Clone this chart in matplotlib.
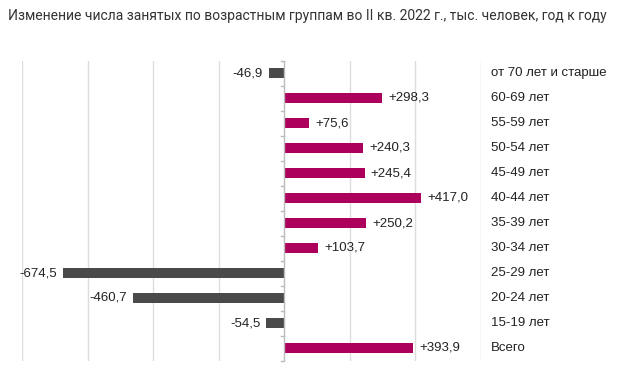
import matplotlib
matplotlib.use("Agg")
import matplotlib.pyplot as plt
import numpy as np

categories = ["от 70 лет и старше", "60-69 лет", "55-59 лет", "50-54 лет", "45-49 лет",
              "40-44 лет", "35-39 лет", "30-34 лет", "25-29 лет", "20-24 лет",
              "15-19 лет", "Всего"]
values = [-46.9, 298.3, 75.6, 240.3, 245.4, 417.0, 250.2, 103.7, -674.5, -460.7, -54.5, 393.9]
labels = ["-46,9", "+298,3", "+75,6", "+240,3", "+245,4", "+417,0", "+250,2", "+103,7",
          "-674,5", "-460,7", "-54,5", "+393,9"]
title = "Изменение числа занятых по возрастным группам во II кв. 2022 г., тыс. человек, год к году"

POS = "#AD005C"
NEG = "#4A4A4A"

fig = plt.figure(figsize=(6.29, 3.84), dpi=100)
ax = fig.add_axes([22/629, 1-360.5/384, (481-22)/629, 300/384])

n = len(categories)
y = np.arange(n)
colors = [POS if v >= 0 else NEG for v in values]
ax.barh(y, values, height=0.4, color=colors, zorder=3)
ax.set_ylim(n-0.5, -0.5)
ax.set_xlim(-800, 600)
ax.set_xticks([-800, -600, -400, -200, 200, 400, 600])
ax.grid(axis="x", color="#DDDDDD", linewidth=1, zorder=0)
ax.tick_params(axis="x", length=0, labelbottom=False)
ax.tick_params(axis="y", length=0, labelleft=False)
for s in ax.spines.values():
    s.set_visible(False)

# zero axis with ticks at category boundaries
ax.axvline(0, color="#BBBBBB", linewidth=1, zorder=4)
for b in np.arange(-0.5, n, 1.0):
    ax.plot([-10, 0], [b, b], color="#BBBBBB", linewidth=1, zorder=4, clip_on=False)

FS = 9.5
for yi, v, lab in zip(y, values, labels):
    if v >= 0:
        ax.annotate(lab, (v, yi), xytext=(6, 0), textcoords="offset pixels",
                    ha="left", va="center", fontsize=FS, family="Liberation Sans", color="#222222")
    else:
        ax.annotate(lab, (v, yi), xytext=(-6, 0), textcoords="offset pixels",
                    ha="right", va="center", fontsize=FS, family="Liberation Sans", color="#222222")
    ax.annotate(categories[yi], (1, yi), xycoords=("axes fraction", "data"),
                xytext=(10, 0), textcoords="offset pixels", ha="left", va="center",
                fontsize=FS, family="Liberation Sans", color="#222222", annotation_clip=False)

fig.text(8/629, 1-16/384, title, ha="left", va="center", fontsize=10,
         family="Roboto", color="#333333")

fig.savefig("out.png", dpi=100, facecolor="white")
